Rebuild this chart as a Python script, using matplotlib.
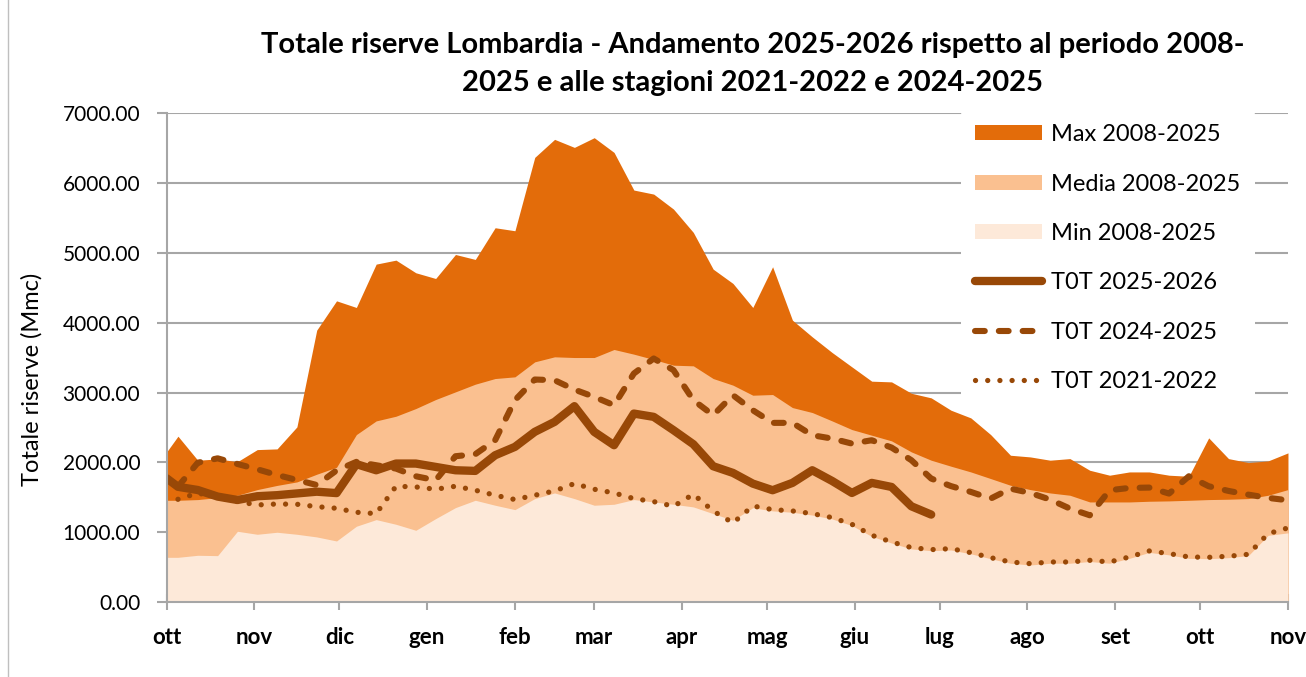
import numpy as np
import pandas as pd
import matplotlib
matplotlib.use('Agg')
import matplotlib.pyplot as plt
from matplotlib.patches import Patch
from matplotlib.lines import Line2D

plt.rcParams['font.family'] = ['Lato', 'DejaVu Sans']

# weekly readings, first point on 1 Oct then every Sunday
DATES = pd.to_datetime(['2025-10-01']).append(
    pd.date_range('2025-10-05', periods=57, freq='7D'))

MAX_0825 = [2150, 2375, 2030, 2050, 2010, 2183, 2193, 2508, 3894, 4314,
            4219, 4840, 4897, 4716, 4634, 4978, 4907, 5361, 5318, 6369,
            6627, 6512, 6651, 6440, 5901, 5843, 5628, 5294, 4768, 4563,
            4219, 4802, 4037, 3798, 3574, 3368, 3163, 3153, 2990, 2924,
            2747, 2637, 2398, 2102, 2078, 2031, 2054, 1887, 1816, 1863,
            1863, 1816, 1801, 2351, 2054, 1997, 2021, 2136]
MEDIA_0825 = [1457, 1457, 1467, 1495, 1529, 1610, 1670, 1720, 1830, 1930,
              2398, 2594, 2661, 2771, 2900, 3010, 3120, 3201, 3225, 3440,
              3512, 3502, 3502, 3617, 3550, 3474, 3392, 3383, 3201, 3106,
              2962, 2972, 2785, 2714, 2594, 2470, 2389, 2308, 2150, 2031,
              1945, 1863, 1768, 1672, 1610, 1562, 1529, 1433, 1433, 1433,
              1443, 1448, 1457, 1467, 1472, 1481, 1529, 1610]
MIN_0825 = [640, 640, 669, 664, 1013, 970, 999, 970, 932, 874,
            1085, 1180, 1113, 1027, 1194, 1352, 1457, 1386, 1323, 1481,
            1562, 1481, 1386, 1400, 1467, 1433, 1400, 1362, 1266, 1171,
            1350, 1305, 1285, 1245, 1190, 1095, 940, 845, 760, 735,
            745, 690, 620, 555, 530, 555, 555, 580, 555, 625,
            710, 675, 625, 620, 635, 665, 955, 990]
TOT_2526 = [1772, 1650, 1604, 1510, 1461, 1515, 1530, 1555, 1580, 1560,
            1975, 1887, 1983, 1983, 1935, 1887, 1878, 2102, 2222, 2437,
            2580, 2805, 2437, 2246, 2699, 2652, 2461, 2260, 1945, 1849,
            1696, 1601, 1706, 1887, 1734, 1562, 1706, 1648, 1371, 1252] + [np.nan] * 18
TOT_2425 = [np.nan, 1652, 1995, 2058, 1977, 1901, 1819, 1748, 1676, 1885,
            2007, 1959, 1911, 1801, 1744, 2088, 2117, 2317, 2891, 3187,
            3177, 3043, 2938, 2819, 3273, 3488, 3321, 2891, 2676, 2962,
            2747, 2566, 2566, 2389, 2341, 2269, 2317, 2212, 2031, 1768,
            1660, 1577, 1481, 1624, 1562, 1467, 1338, 1242, 1601, 1634,
            1639, 1553, 1801, 1658, 1591, 1538, 1491, 1457]
TOT_2122 = [np.nan, 1471, 1560, 1500, 1440, 1390, 1404, 1400, 1366, 1342,
            1285, 1266, 1658, 1648, 1615, 1658, 1601, 1529, 1467, 1529,
            1591, 1696, 1615, 1562, 1481, 1438, 1371, 1543, 1304, 1132,
            1375, 1323, 1304, 1266, 1209, 1113, 956, 860, 779, 750,
            764, 707, 635, 573, 549, 573, 573, 597, 573, 645,
            731, 693, 645, 640, 655, 683, 979, 1061]

MONTH_STARTS = pd.date_range('2025-10-01', '2026-11-01', freq='MS')
MONTH_LABELS = ['ott', 'nov', 'dic', 'gen', 'feb', 'mar', 'apr', 'mag',
                'giu', 'lug', 'ago', 'set', 'ott', 'nov']

C_MAX = '#E36C0A'
C_MEDIA = '#FAC090'
C_MIN = '#FDE9D9'
C_LINE = '#984807'
C_GRID = '#A6A6A6'

fig = plt.figure(figsize=(13.06, 6.77), dpi=100)
ax = fig.add_axes([0.1276, 0.1108, 0.8586, 0.7218])

ax.fill_between(DATES, 0, MAX_0825, color=C_MAX, lw=0, zorder=1)
ax.fill_between(DATES, 0, MEDIA_0825, color=C_MEDIA, lw=0, zorder=2)
ax.fill_between(DATES, 0, MIN_0825, color=C_MIN, lw=0, zorder=3)

solid_kw = dict(color=C_LINE, lw=6, solid_capstyle='round', solid_joinstyle='round')
dash_kw = dict(color=C_LINE, lw=4.4, ls=(0, (1.6, 2.3)), dash_capstyle='round',
               dash_joinstyle='round')
dot_kw = dict(color=C_LINE, lw=3.8, ls=(0, (0.01, 2.3)), dash_capstyle='round')

ax.plot(DATES, TOT_2526, zorder=4, **solid_kw)
ax.plot(DATES, TOT_2425, zorder=5, **dash_kw)
ax.plot(DATES, TOT_2122, zorder=6, **dot_kw)

ax.set_xlim(MONTH_STARTS[0], MONTH_STARTS[-1])
ax.set_ylim(0, 7000)
ax.set_yticks(np.arange(0, 7001, 1000))
ax.set_yticklabels([f'{v:.2f}' for v in np.arange(0, 7001, 1000)])
ax.set_xticks(MONTH_STARTS)
ax.set_xticklabels(MONTH_LABELS, fontweight='bold')

ax.grid(axis='y', color=C_GRID, lw=1.5, zorder=0)
ax.set_axisbelow(True)
for s in ['top', 'right']:
    ax.spines[s].set_visible(False)
for s in ['left', 'bottom']:
    ax.spines[s].set_color(C_GRID)
    ax.spines[s].set_linewidth(1.5)
    ax.spines[s].set_zorder(7)
ax.tick_params(axis='x', direction='inout', length=12, width=1.5, color=C_GRID,
               pad=12, labelsize=16)
ax.tick_params(axis='y', direction='out', length=7, width=1.5, color=C_GRID,
               pad=12, labelsize=15)

fig.text(32 / 1306, 1 - 379 / 677, 'Totale riserve (Mmc)', rotation=90,
         ha='center', va='center', fontsize=17)
fig.text(0.576, 1 - 64 / 677,
         'Totale riserve Lombardia - Andamento 2025-2026 rispetto al periodo 2008-\n'
         '2025 e alle stagioni 2021-2022 e 2024-2025',
         ha='center', va='center', fontsize=21, fontweight='bold', linespacing=1.55)

handles = [
    Patch(facecolor=C_MAX, edgecolor='none'),
    Patch(facecolor=C_MEDIA, edgecolor='none'),
    Patch(facecolor=C_MIN, edgecolor='none'),
    Line2D([], [], **solid_kw),
    Line2D([], [], **dash_kw),
    Line2D([], [], **dot_kw),
]
labels = ['Max 2008-2025', 'Media 2008-2025', 'Min 2008-2025',
          'T0T 2025-2026', 'T0T 2024-2025', 'T0T 2021-2022']
leg = ax.legend(handles, labels, loc='upper left',
                bbox_to_anchor=(961 / 1306, 1 - 110 / 677),
                bbox_transform=fig.transFigure, frameon=True, fontsize=17,
                handlelength=2.85, handleheight=0.6, handletextpad=0.38,
                labelspacing=1.2, borderpad=0.6, borderaxespad=0)
leg.get_frame().set_facecolor('white')
leg.get_frame().set_edgecolor('none')
leg.get_frame().set_alpha(1)
leg.set_zorder(10)

fig.add_artist(Line2D([8 / 1306, 8 / 1306], [0, 1], color='#BFBFBF', lw=1,
                      transform=fig.transFigure))

fig.savefig('out.png', dpi=100)
